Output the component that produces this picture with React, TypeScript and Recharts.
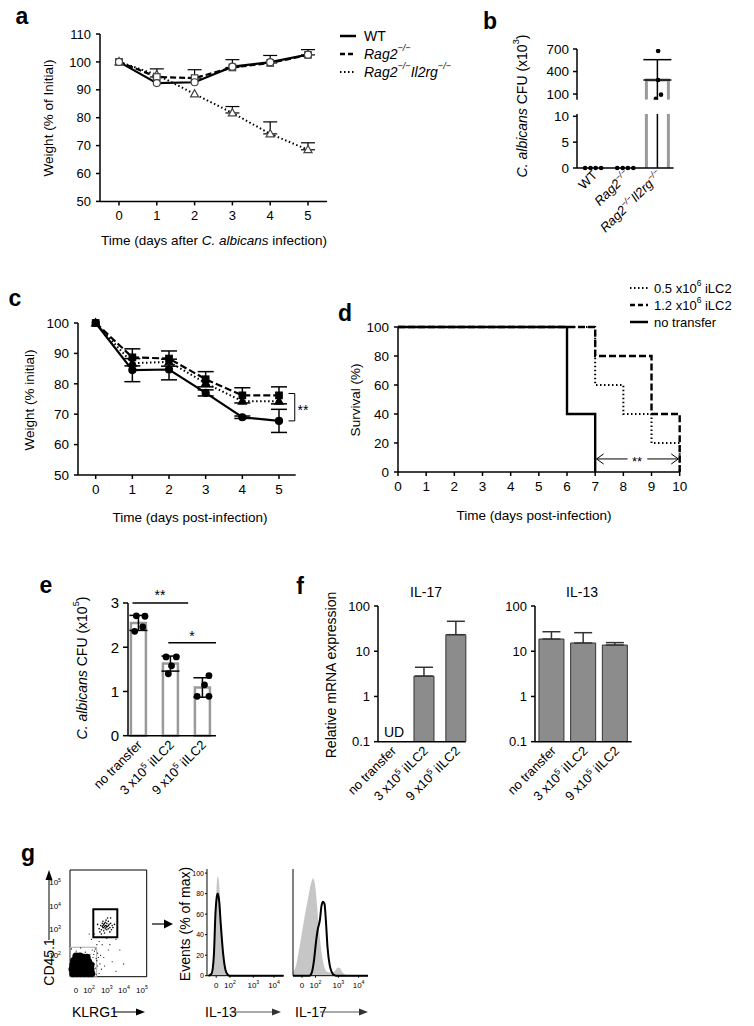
import React from 'react';
import {
  LineChart, Line, ComposedChart, Bar, Scatter, Area, XAxis, YAxis,
  ErrorBar, ReferenceLine, ReferenceArea,
} from 'recharts';

const FONT = '"Liberation Sans", Arial, Helvetica, sans-serif';

// ---------------- Panel a ----------------
const aDays = [0, 1, 2, 3, 4, 5];
const aWT = [100, 92.4, 92.7, 98.3, 99.9, 102.6];
const aRag2 = [100, 94.6, 94.2, 98.0, 99.6, 102.5];
const aRag2Err = [null, 2.9, 3.0, 2.8, 2.7, 1.9];
const aDKO = [100, 95.4, 88.5, 81.7, 74.2, 68.5];
const aDKOErr = [null, null, null, 2.3, 4.3, 2.5];
const aYTicks = [50, 60, 70, 80, 90, 100, 110];

// ---------------- Panel b ----------------
const bCatX = [0, 1, 2];
const bMean = [null, null, 287];
const bSDup = [null, null, 271];
const bWTDots = [0, 0, 0, 0];
const bRagDots = [0, 0, 0, 0];
const bDKODots = [673, 287, 92, 38];
const bJitter = [-0.25, -0.08, 0.08, 0.25];
const bDKOJitter = [0.02, 0.02, 0.11, -0.05];
const bTopTicks = [100, 400, 700];
const bBottomTicks = [0, 5, 10];

// ---------------- Panel c ----------------
const cDays = [0, 1, 2, 3, 4, 5];
const cNone = [100, 84.5, 84.7, 77.0, 69.0, 67.8];
const cNoneErr = [null, 3.8, 3.4, 1.0, 0.4, 3.8];
const cHigh = [100, 88.7, 88.3, 81.5, 76.2, 76.2];
const cHighErr = [null, 2.8, 2.5, 2.5, 2.5, 2.8];
const cLow = [100, 86.8, 87.2, 80.2, 74.3, 74.3];
const cYTicks = [50, 60, 70, 80, 90, 100];

// ---------------- Panel d ----------------
const dNoT = [0, 6, 7];
const dNoS = [100, 40, 0];
const dHiT = [0, 7, 9, 10];
const dHiS = [100, 80, 40, 0];
const dLoT = [0, 7, 8, 9, 10];
const dLoS = [100, 60, 40, 20, 0];
const dXTicks = [0, 1, 2, 3, 4, 5, 6, 7, 8, 9, 10];
const dYTicks = [0, 20, 40, 60, 80, 100];

// ---------------- Panel e ----------------
const eX = [0, 1, 2];
const eMean = [2.55, 1.63, 1.09];
const eSD = [0.17, 0.17, 0.22];
const eDotsV = [[2.71, 2.70, 2.46, 2.36], [1.78, 1.78, 1.58, 1.40], [1.36, 1.15, 0.89, 0.89]];
const eDotsJ = [[-0.05, 0.22, 0.15, -0.1], [-0.12, 0.2, 0.05, -0.05], [0.22, 0.08, -0.15, 0.22]];
const eYTicks = [0, 1, 2, 3];

// ---------------- Panel f ----------------
const fX = [0, 1, 2];
const f17Mean = [null, 2.82, 23.2];
const f17Err = [null, 1.6, 22.7];
const f13Mean = [18.6, 15.2, 13.7];
const f13Err = [8.4, 10.5, 1.8];
const fYTicks = [0.1, 1, 10, 100];

// ---------------- Panel g ----------------
const gBlob = [
  [4, 3], [9, 3], [14, 3], [19, 3], [24, 3], [28, 3],
  [3, 7], [8, 7], [13, 7], [18, 7], [23, 7], [27, 7],
  [4, 11], [9, 11], [14, 11], [19, 11], [24, 11], [27, 11],
  [5, 15], [10, 15], [15, 15], [20, 15], [24, 14],
  [8, 19], [13, 19], [18, 18], [22, 18],
];
const gSparse = [
  [31, 5], [32, 12], [30, 18], [33, 8], [8, 24], [20, 23], [26, 21], [35, 15], [38, 3], [32, 24],
  [40, 20], [45, 10], [50, 25], [55, 14], [42, 30], [60, 5], [35, 30], [28, 35], [38, 33], [32, 40],
  [52, 30], [60, 35], [25, 40], [65, 25], [2, 26], [14, 27], [36, 22], [44, 18], [70, 12], [48, 36],
  [34, 2], [36, 10], [31, 21], [29, 25], [37, 18], [41, 7], [33, 26], [39, 12], [30, 10], [34, 17],
];
const gGate = [
  [38, 45], [40, 48], [41, 44], [42, 50], [43, 46], [44, 43], [44, 49], [45, 47], [46, 45], [46, 51],
  [47, 48], [48, 44], [48, 50], [49, 47], [50, 45], [51, 49], [52, 46], [53, 50], [54, 44], [55, 48],
  [42, 47], [43, 52], [45, 41], [47, 53], [50, 52], [52, 42], [39, 42], [56, 46], [58, 49], [36, 49],
  [41, 40], [49, 55], [53, 55], [46, 48], [44, 46], [47, 46], [45, 50], [43, 48], [48, 47], [50, 48],
];
const gDotXTicks = [7.8, 24.8, 48, 70.4, 93.9];
const gDotXLabels = ['0', '2', '3', '4', '5'];
const gDotYTicks = [20.3, 44.7, 66.3, 88.8];
const gDotYLabels = ['2', '3', '4', '5'];
const gHistXTicks = [12, 30, 60.5, 87.5];
const gHistXLabels = ['0', '2', '3', '4'];
const gHistYTicks = [0, 20, 40, 60, 80, 100];
const h13X = [2, 6, 9, 11, 13, 14, 16, 18, 21, 24, 27, 30, 100];
const h13Iso = [0, 2, 15, 55, 92, 97, 88, 60, 25, 6, 1, 0, 0];
const h13Stain = [0, 2, 20, 60, 78, 80, 72, 50, 22, 6, 1, 0, 0];
const h17IsoX = [0, 4, 8, 12, 16, 20, 24, 27, 30, 33, 36, 39, 42, 45, 50, 55, 60, 63, 66, 70, 75, 100];
const h17Iso = [3, 10, 25, 42, 60, 75, 90, 95, 85, 60, 35, 18, 8, 4, 3, 4, 8, 7, 3, 1, 0, 0];
const h17StainX = [0, 22, 25, 28, 31, 33, 36, 38, 40, 42, 44, 46, 49, 52, 55, 58, 100];
const h17Stain = [0, 0, 3, 15, 35, 45, 55, 68, 72, 70, 52, 28, 10, 3, 0.5, 0, 0];

// ---------------- helpers ----------------
type Seg = { t: string; sup?: boolean; it?: boolean };

function rich(segs: Seg[], fs: number) {
  let shifted = false;
  return segs.map((s, i) => {
    let dy: number | undefined;
    if (s.sup && !shifted) { dy = -fs * 0.4; shifted = true; }
    else if (!s.sup && shifted) { dy = fs * 0.4; shifted = false; }
    return (
      <tspan key={i} dy={dy} fontSize={s.sup ? fs * 0.65 : fs} fontStyle={s.it ? 'italic' : 'normal'}>
        {s.t}
      </tspan>
    );
  });
}

function geom(pl: number, pt: number, pw: number, ph: number, yw = 50, xh = 40, mt = 10, mr = 10, mb = 0) {
  return {
    style: { position: 'absolute' as const, left: pl - yw, top: pt - mt },
    width: yw + pw + mr,
    height: mt + ph + xh + mb,
    margin: { top: mt, right: mr, bottom: mb, left: 0 },
    yw, xh,
  };
}

const AX = { stroke: '#000', strokeWidth: 1.5 };
const tk = (fs: number) => ({ fill: '#000', fontSize: fs });

function markerShape(shape: string, fill: string, stroke: string, size: number) {
  return (p: any) => {
    const { cx, cy, index } = p;
    if (cx == null || cy == null) return <g key={`m${index}`} />;
    const s = size;
    if (shape === 'circle')
      return <circle key={`m${index}`} cx={cx} cy={cy} r={s / 2} fill={fill} stroke={stroke} strokeWidth={1.2} />;
    if (shape === 'square')
      return <rect key={`m${index}`} x={cx - s / 2} y={cy - s / 2} width={s} height={s} fill={fill} stroke={stroke} strokeWidth={1.2} />;
    return (
      <polygon key={`m${index}`}
        points={`${cx},${cy - s * 0.62} ${cx - s * 0.58},${cy + s * 0.42} ${cx + s * 0.58},${cy + s * 0.42}`}
        fill={fill} stroke={stroke} strokeWidth={1.2} />
    );
  };
}

const dotShape = (r: number) => (p: any) => <circle cx={p.cx} cy={p.cy} r={r} fill="#000" />;

function rotTick(labels: Seg[][], fs: number, dx: number, dy: number) {
  return (p: any) => {
    const { x, y, payload } = p;
    const lab = labels[Math.round(payload.value)] || [];
    return (
      <g transform={`translate(${x + dx},${y + dy})`}>
        <text transform="rotate(-45)" textAnchor="end" fill="#000" fontSize={fs}>{rich(lab, fs)}</text>
      </g>
    );
  };
}

function powTick(ticks: number[], labels: string[], fs: number, side: 'x' | 'y') {
  return (p: any) => {
    const { x, y, payload } = p;
    const i = ticks.findIndex((t) => Math.abs(t - payload.value) < 1e-6);
    const l = labels[i];
    const segs: Seg[] = l === '0' ? [{ t: '0' }] : [{ t: '10' }, { t: l, sup: true }];
    if (side === 'x')
      return <text x={x} y={y + 8} textAnchor="middle" fill="#000" fontSize={fs}>{rich(segs, fs)}</text>;
    return <text x={x - 1} y={y + 3} textAnchor="end" fill="#000" fontSize={fs}>{rich(segs, fs)}</text>;
  };
}

function T({ x, y, segs, fs = 14, anchor = 'middle', rot = 0, bold = false, fill = '#000' }:
  { x: number; y: number; segs: Seg[]; fs?: number; anchor?: string; rot?: number; bold?: boolean; fill?: string }) {
  return (
    <text transform={`translate(${x},${y}) rotate(${rot})`} textAnchor={anchor as any}
      dominantBaseline="central" fontSize={fs} fontWeight={bold ? 'bold' : 'normal'} fill={fill}>
      {rich(segs, fs)}
    </text>
  );
}

const bLabels: Seg[][] = [
  [{ t: 'WT' }],
  [{ t: 'Rag2', it: true }, { t: '−/−', sup: true, it: true }],
  [{ t: 'Rag2', it: true }, { t: '−/−', sup: true, it: true }, { t: 'Il2rg', it: true }, { t: '−/−', sup: true, it: true }],
];
const efLabels: Seg[][] = [
  [{ t: 'no transfer' }],
  [{ t: '3 x10' }, { t: '5', sup: true }, { t: ' iILC2' }],
  [{ t: '9 x10' }, { t: '5', sup: true }, { t: ' iILC2' }],
];

// ---------------- data tables ----------------
const aData = aDays.map((d, i) => ({
  day: d, wt: aWT[i], rag2: aRag2[i], dko: aDKO[i],
  rag2E: aRag2Err[i] == null ? null : [0, aRag2Err[i]],
  dkoE: aDKOErr[i] == null ? null : [0, aDKOErr[i]],
}));
const bBars = bCatX.map((x, i) => ({ x, y: bMean[i], e: bSDup[i] == null ? null : [0, bSDup[i]] }));
const bTopDots = bDKODots.map((v, i) => ({ x: 2 + bDKOJitter[i], y: v }));
const bBotDots = [
  ...bWTDots.map((v, i) => ({ x: 0 + bJitter[i], y: v })),
  ...bRagDots.map((v, i) => ({ x: 1 + bJitter[i], y: v })),
];
const cData = cDays.map((d, i) => ({
  day: d, none: cNone[i], high: cHigh[i], low: cLow[i],
  noneE: cNoneErr[i], highE: cHighErr[i],
}));
const dNo = dNoT.map((t, i) => ({ t, s: dNoS[i] }));
const dHi = dHiT.map((t, i) => ({ t, s: dHiS[i] }));
const dLo = dLoT.map((t, i) => ({ t, s: dLoS[i] }));
const eBars = eX.map((x, i) => ({ x, y: eMean[i], e: eSD[i] }));
const eDots = eDotsV.flatMap((arr, b) => arr.map((v, k) => ({ x: b + eDotsJ[b][k], y: v })));
const f17 = fX.map((x, i) => ({ x, y: f17Mean[i], e: f17Err[i] == null ? null : [0, f17Err[i]] }));
const f13 = fX.map((x, i) => ({ x, y: f13Mean[i], e: [0, f13Err[i]] }));
const gBlobD = gBlob.map(([x, y]) => ({ x, y }));
const gSparseD = gSparse.map(([x, y]) => ({ x, y }));
const gGateD = gGate.map(([x, y]) => ({ x, y }));
const h13IsoD = h13X.map((x, i) => ({ x, y: h13Iso[i] }));
const h13StD = h13X.map((x, i) => ({ x, y: h13Stain[i] }));
const h17IsoD = h17IsoX.map((x, i) => ({ x, y: h17Iso[i] }));
const h17StD = h17StainX.map((x, i) => ({ x, y: h17Stain[i] }));

// bar shapes for panel b (open gray bar with the SD line running through it)
const bTopShape = (p: any) => {
  const { x, y, width, height } = p;
  if (!(height > 0)) return <g />;
  return (
    <g>
      <path d={`M${x},${y + height}V${y}H${x + width}V${y + height}`} fill="none" stroke="#9a9a9a" strokeWidth={3} />
      <line x1={x + width / 2} x2={x + width / 2} y1={y} y2={y + height} stroke="#000" strokeWidth={1.5} />
    </g>
  );
};
const bBotShape = (p: any) => {
  const { x, y, width, height } = p;
  if (!(height > 0)) return <g />;
  return (
    <g>
      <path d={`M${x},${y + height}V${y}M${x + width},${y}V${y + height}`} fill="none" stroke="#9a9a9a" strokeWidth={3} />
      <line x1={x + width / 2} x2={x + width / 2} y1={y} y2={y + height} stroke="#000" strokeWidth={1.5} />
    </g>
  );
};

export default function App() {
  const ga = geom(100, 34.3, 227, 167.4, 60, 30);
  const gbT = geom(577, 49.3, 96.6, 50.7, 45, 0, 12, 10, 10);
  const gbB = geom(577, 114.3, 96.6, 54, 45, 90, 8, 10);
  const gc = geom(78.3, 322.7, 217.7, 152, 50, 30);
  const gd = geom(398.3, 327.3, 281.7, 145, 40, 30);
  const ge = geom(128, 603.3, 88, 132.7, 40, 80);
  const gf17 = geom(378.3, 606, 87.7, 135.7, 40, 80);
  const gf13 = geom(535, 606, 96.7, 135.7, 40, 80);
  const gDot = geom(70, 870, 76.7, 106.7, 25, 25, 5, 5);
  const gH13 = geom(206.7, 869.3, 76.6, 106.7, 20, 25, 5, 5);
  const gH17 = geom(293.3, 869.3, 75, 106.7, 8, 25, 5, 5);

  const legA = [
    { dash: undefined, w: 2.5, segs: [{ t: 'WT' }] as Seg[] },
    { dash: '5 3', w: 2.5, segs: bLabels[1] },
    { dash: '1.5 2.5', w: 2, segs: bLabels[2] },
  ];
  const legD = [
    { dash: '1.5 2.5', w: 2, segs: [{ t: '0.5 x10' }, { t: '6', sup: true }, { t: ' iLC2' }] as Seg[] },
    { dash: '5 3', w: 2.5, segs: [{ t: '1.2 x10' }, { t: '6', sup: true }, { t: ' iLC2' }] as Seg[] },
    { dash: undefined, w: 2.5, segs: [{ t: 'no transfer' }] as Seg[] },
  ];

  return (
    <div style={{ position: 'absolute', left: 0, top: 0, width: 754, height: 1026, background: '#fff', fontFamily: FONT, overflow: 'hidden' }}>
      {/* ---------- a ---------- */}
      <div style={ga.style}>
        <LineChart width={ga.width} height={ga.height} margin={ga.margin} data={aData}>
          <XAxis dataKey="day" type="number" domain={[0, 5]} ticks={aDays} padding={{ left: 19, right: 19 }}
            height={ga.xh} tickSize={4} tickMargin={5} tick={tk(13)} axisLine={AX} tickLine={AX} interval={0} />
          <YAxis type="number" domain={[50, 110]} ticks={aYTicks} width={ga.yw} tickSize={4} tickMargin={5}
            tick={tk(13)} axisLine={AX} tickLine={AX} interval={0} />
          <Line dataKey="dko" stroke="#000" strokeWidth={2} strokeDasharray="1.5 2.5" isAnimationActive={false}
            dot={markerShape('triangle', '#fff', '#444', 7)}>
            <ErrorBar dataKey="dkoE" width={7} stroke="#000" strokeWidth={1.2} />
          </Line>
          <Line dataKey="rag2" stroke="#000" strokeWidth={2.2} strokeDasharray="6 3" isAnimationActive={false}
            dot={markerShape('square', '#fff', '#444', 6.5)}>
            <ErrorBar dataKey="rag2E" width={7} stroke="#000" strokeWidth={1.2} />
          </Line>
          <Line dataKey="wt" stroke="#000" strokeWidth={2.2} isAnimationActive={false}
            dot={markerShape('circle', '#fff', '#444', 7)} />
        </LineChart>
      </div>

      {/* ---------- b (broken axis: upper and lower segments) ---------- */}
      <div style={gbT.style}>
        <ComposedChart width={gbT.width} height={gbT.height} margin={gbT.margin} data={bBars}>
          <XAxis dataKey="x" type="number" domain={[-0.5, 2.5]} hide />
          <XAxis xAxisId="s" dataKey="x" type="number" domain={[-0.5, 2.5]} hide />
          <YAxis dataKey="y" type="number" domain={[25, 700]} allowDataOverflow ticks={bTopTicks} width={gbT.yw}
            tickSize={4} tickMargin={4} tick={tk(13.5)} axisLine={AX} tickLine={AX} interval={0} />
          <Bar dataKey="y" barSize={22} shape={bTopShape} isAnimationActive={false}>
            <ErrorBar dataKey="e" width={14} stroke="#000" strokeWidth={1.5} />
          </Bar>
          <Scatter xAxisId="s" data={bTopDots} dataKey="y" shape={dotShape(2.3)} isAnimationActive={false} />
        </ComposedChart>
      </div>
      <div style={gbB.style}>
        <ComposedChart width={gbB.width} height={gbB.height} margin={gbB.margin} data={bBars}>
          <XAxis dataKey="x" type="number" domain={[-0.5, 2.5]} ticks={bCatX} height={gbB.xh} tickSize={0}
            tickLine={false} axisLine={AX} tick={rotTick(bLabels, 13, 5, 6)} interval={0} />
          <XAxis xAxisId="s" dataKey="x" type="number" domain={[-0.5, 2.5]} hide />
          <YAxis yAxisId="bar" type="number" domain={[0, 10.45]} allowDataOverflow hide />
          <YAxis dataKey="y" type="number" domain={[0, 10.45]} ticks={bBottomTicks} width={gbB.yw}
            tickSize={4} tickMargin={4} tick={tk(13.5)} axisLine={AX} tickLine={AX} interval={0} />
          <Bar dataKey="y" yAxisId="bar" barSize={22} shape={bBotShape} isAnimationActive={false} />
          <Scatter xAxisId="s" data={bBotDots} dataKey="y" shape={dotShape(2.3)} isAnimationActive={false} />
        </ComposedChart>
      </div>

      {/* ---------- c ---------- */}
      <div style={gc.style}>
        <LineChart width={gc.width} height={gc.height} margin={gc.margin} data={cData}>
          <XAxis dataKey="day" type="number" domain={[0, 5]} ticks={cDays} padding={{ left: 17.7, right: 16.7 }}
            height={gc.xh} tickSize={4} tickMargin={5} tick={tk(13.5)} axisLine={AX} tickLine={AX} interval={0} />
          <YAxis type="number" domain={[50, 100]} ticks={cYTicks} width={gc.yw} tickSize={4} tickMargin={5}
            tick={tk(13.5)} axisLine={AX} tickLine={AX} interval={0} />
          <Line dataKey="low" stroke="#000" strokeWidth={2} strokeDasharray="1.5 2.5" isAnimationActive={false}
            dot={markerShape('triangle', '#000', '#000', 7)} />
          <Line dataKey="high" stroke="#000" strokeWidth={2.2} strokeDasharray="7 3" isAnimationActive={false}
            dot={markerShape('square', '#000', '#000', 6.5)}>
            <ErrorBar dataKey="highE" width={8} stroke="#000" strokeWidth={1.5} />
          </Line>
          <Line dataKey="none" stroke="#000" strokeWidth={2.2} isAnimationActive={false}
            dot={markerShape('circle', '#000', '#000', 7)}>
            <ErrorBar dataKey="noneE" width={8} stroke="#000" strokeWidth={1.5} />
          </Line>
          <ReferenceLine segment={[{ x: 5.26, y: 76.8 }, { x: 5.43, y: 76.8 }]} stroke="#000" strokeWidth={1} ifOverflow="visible" />
          <ReferenceLine segment={[{ x: 5.43, y: 76.8 }, { x: 5.43, y: 67.8 }]} stroke="#000" strokeWidth={1} ifOverflow="visible" />
          <ReferenceLine segment={[{ x: 5.26, y: 67.8 }, { x: 5.43, y: 67.8 }]} stroke="#000" strokeWidth={1} ifOverflow="visible" />
        </LineChart>
      </div>

      {/* ---------- d ---------- */}
      <div style={gd.style}>
        <LineChart width={gd.width} height={gd.height} margin={gd.margin}>
          <XAxis dataKey="t" type="number" domain={[0, 10]} ticks={dXTicks} height={gd.xh} tickSize={4}
            tickMargin={5} tick={tk(13.5)} axisLine={AX} tickLine={AX} interval={0} />
          <YAxis type="number" domain={[0, 100]} ticks={dYTicks} width={gd.yw} tickSize={4} tickMargin={5}
            tick={tk(13.5)} axisLine={AX} tickLine={AX} interval={0} />
          <Line data={dLo} dataKey="s" type="stepAfter" stroke="#000" strokeWidth={2} strokeDasharray="1.5 2.5" dot={false} isAnimationActive={false} />
          <Line data={dHi} dataKey="s" type="stepAfter" stroke="#000" strokeWidth={2.4} strokeDasharray="7 3" dot={false} isAnimationActive={false} />
          <Line data={dNo} dataKey="s" type="stepAfter" stroke="#000" strokeWidth={2.4} dot={false} isAnimationActive={false} />
          <ReferenceLine segment={[{ x: 7.05, y: 9 }, { x: 8.15, y: 9 }]} stroke="#000" strokeWidth={1} ifOverflow="visible" />
          <ReferenceLine segment={[{ x: 8.85, y: 9 }, { x: 9.95, y: 9 }]} stroke="#000" strokeWidth={1} ifOverflow="visible" />
          <ReferenceLine segment={[{ x: 7.05, y: 9 }, { x: 7.3, y: 12.5 }]} stroke="#000" strokeWidth={1} ifOverflow="visible" />
          <ReferenceLine segment={[{ x: 7.05, y: 9 }, { x: 7.3, y: 5.5 }]} stroke="#000" strokeWidth={1} ifOverflow="visible" />
          <ReferenceLine segment={[{ x: 9.95, y: 9 }, { x: 9.7, y: 12.5 }]} stroke="#000" strokeWidth={1} ifOverflow="visible" />
          <ReferenceLine segment={[{ x: 9.95, y: 9 }, { x: 9.7, y: 5.5 }]} stroke="#000" strokeWidth={1} ifOverflow="visible" />
        </LineChart>
      </div>

      {/* ---------- e ---------- */}
      <div style={ge.style}>
        <ComposedChart width={ge.width} height={ge.height} margin={ge.margin} data={eBars}>
          <XAxis dataKey="x" type="number" domain={[-0.31, 2.44]} ticks={eX} height={ge.xh} tickSize={0}
            tickLine={false} axisLine={AX} tick={rotTick(efLabels, 13, 5, 8)} interval={0} />
          <XAxis xAxisId="s" dataKey="x" type="number" domain={[-0.31, 2.44]} hide />
          <YAxis dataKey="y" type="number" domain={[0, 3]} ticks={eYTicks} width={ge.yw} tickSize={5}
            tickMargin={4} tick={tk(15)} axisLine={AX} tickLine={AX} interval={0} />
          <Bar dataKey="y" barSize={15} fill="#fff" stroke="#9a9a9a" strokeWidth={2.5} isAnimationActive={false}>
            <ErrorBar dataKey="e" width={9} stroke="#000" strokeWidth={1.5} />
          </Bar>
          <Scatter xAxisId="s" data={eDots} dataKey="y" shape={dotShape(3.4)} isAnimationActive={false} />
          <ReferenceLine segment={[{ x: -0.17, y: 3 }, { x: 1.57, y: 3 }]} stroke="#000" strokeWidth={1.5} ifOverflow="visible" />
          <ReferenceLine segment={[{ x: 0.95, y: 2.1 }, { x: 2.44, y: 2.1 }]} stroke="#000" strokeWidth={1.5} ifOverflow="visible" />
        </ComposedChart>
      </div>

      {/* ---------- f ---------- */}
      <div style={gf17.style}>
        <ComposedChart width={gf17.width} height={gf17.height} margin={gf17.margin} data={f17}>
          <XAxis dataKey="x" type="number" domain={[-0.44, 2.31]} ticks={fX} height={gf17.xh} tickSize={0}
            tickLine={false} axisLine={AX} tick={rotTick(efLabels, 13, 5, 8)} interval={0} />
          <YAxis dataKey="y" type="number" scale="log" domain={[0.1, 100]} allowDataOverflow ticks={fYTicks}
            width={gf17.yw} tickSize={4} tickMargin={4} tick={tk(13)} axisLine={AX} tickLine={AX}
            tickFormatter={(v: number) => String(v)} interval={0} />
          <Bar dataKey="y" barSize={20} fill="#8c8c8c" stroke="#333" strokeWidth={1} isAnimationActive={false}>
            <ErrorBar dataKey="e" width={9} stroke="#333" strokeWidth={1.5} />
          </Bar>
        </ComposedChart>
      </div>
      <div style={gf13.style}>
        <ComposedChart width={gf13.width} height={gf13.height} margin={gf13.margin} data={f13}>
          <XAxis dataKey="x" type="number" domain={[-0.53, 2.52]} ticks={fX} height={gf13.xh} tickSize={0}
            tickLine={false} axisLine={AX} tick={rotTick(efLabels, 13, 5, 8)} interval={0} />
          <YAxis dataKey="y" type="number" scale="log" domain={[0.1, 100]} allowDataOverflow ticks={fYTicks}
            width={gf13.yw} tickSize={4} tickMargin={4} tick={tk(13)} axisLine={AX} tickLine={AX}
            tickFormatter={(v: number) => String(v)} interval={0} />
          <Bar dataKey="y" barSize={25} fill="#8c8c8c" stroke="#333" strokeWidth={1} isAnimationActive={false}>
            <ErrorBar dataKey="e" width={9} stroke="#333" strokeWidth={1.5} />
          </Bar>
        </ComposedChart>
      </div>

      {/* ---------- g: dot plot ---------- */}
      <div style={gDot.style}>
        <ComposedChart width={gDot.width} height={gDot.height} margin={gDot.margin}>
          <XAxis dataKey="x" type="number" domain={[0, 100]} ticks={gDotXTicks} height={gDot.xh}
            axisLine={false} tickLine={false} tick={powTick(gDotXTicks, gDotXLabels, 8, 'x')} interval={0} />
          <YAxis dataKey="y" type="number" domain={[0, 100]} ticks={gDotYTicks} width={gDot.yw}
            axisLine={false} tickLine={false} tick={powTick(gDotYTicks, gDotYLabels, 8, 'y')} interval={0} />
          <ReferenceArea x1={0} x2={100} y1={0} y2={100} fill="none" stroke="#000" strokeWidth={1} />
          <Scatter data={gSparseD} dataKey="y" shape={dotShape(0.6)} isAnimationActive={false} />
          <Scatter data={gBlobD} dataKey="y" shape={dotShape(3.8)} isAnimationActive={false} />
          <Scatter data={gGateD} dataKey="y" shape={dotShape(0.8)} isAnimationActive={false} />
          <ReferenceArea x1={0} x2={34.8} y1={0} y2={27.6} fill="none" stroke="#aaa" strokeWidth={1} />
          <ReferenceArea x1={30.4} x2={61.7} y1={36.9} y2={63.2} fill="none" stroke="#000" strokeWidth={2} />
        </ComposedChart>
      </div>

      {/* ---------- g: IL-13 histogram ---------- */}
      <div style={gH13.style}>
        <ComposedChart width={gH13.width} height={gH13.height} margin={gH13.margin}>
          <XAxis dataKey="x" type="number" domain={[0, 100]} ticks={gHistXTicks} height={gH13.xh}
            axisLine={{ stroke: '#000', strokeWidth: 1 }} tickLine={{ stroke: '#000' }} tickSize={2}
            tick={powTick(gHistXTicks, gHistXLabels, 8, 'x')} interval={0} />
          <YAxis dataKey="y" type="number" domain={[0, 104]} ticks={gHistYTicks} width={gH13.yw}
            axisLine={{ stroke: '#000', strokeWidth: 1 }} tickLine={{ stroke: '#000' }} tickSize={2} tickMargin={1}
            tick={{ fill: '#000', fontSize: 7 }} interval={0} />
          <Area data={h13IsoD} dataKey="y" type="monotone" fill="#c6c6c6" fillOpacity={1} stroke="none" isAnimationActive={false} />
          <Line data={h13StD} dataKey="y" type="monotone" stroke="#000" strokeWidth={2} dot={false} isAnimationActive={false} />
        </ComposedChart>
      </div>

      {/* ---------- g: IL-17 histogram ---------- */}
      <div style={gH17.style}>
        <ComposedChart width={gH17.width} height={gH17.height} margin={gH17.margin}>
          <XAxis dataKey="x" type="number" domain={[0, 100]} ticks={gHistXTicks} height={gH17.xh}
            axisLine={{ stroke: '#000', strokeWidth: 1 }} tickLine={{ stroke: '#000' }} tickSize={2}
            tick={powTick(gHistXTicks, gHistXLabels, 8, 'x')} interval={0} />
          <YAxis dataKey="y" type="number" domain={[0, 104]} ticks={gHistYTicks} width={gH17.yw}
            axisLine={{ stroke: '#000', strokeWidth: 1 }} tickLine={{ stroke: '#000' }} tickSize={2}
            tick={false} interval={0} />
          <Area data={h17IsoD} dataKey="y" type="monotone" fill="#c6c6c6" fillOpacity={1} stroke="none" isAnimationActive={false} />
          <Line data={h17StD} dataKey="y" type="monotone" stroke="#000" strokeWidth={2} dot={false} isAnimationActive={false} />
        </ComposedChart>
      </div>

      {/* ---------- text overlay ---------- */}
      <svg width={754} height={1026} style={{ position: 'absolute', left: 0, top: 0, pointerEvents: 'none' }} fontFamily={FONT}>
        {/* panel letters */}
        <T x={22} y={16} segs={[{ t: 'a' }]} fs={23} bold />
        <T x={490} y={21} segs={[{ t: 'b' }]} fs={23} bold />
        <T x={15} y={298} segs={[{ t: 'c' }]} fs={23} bold />
        <T x={345} y={313} segs={[{ t: 'd' }]} fs={23} bold />
        <T x={46} y={585} segs={[{ t: 'e' }]} fs={23} bold />
        <T x={300} y={586} segs={[{ t: 'f' }]} fs={23} bold />
        <T x={28} y={853} segs={[{ t: 'g' }]} fs={23} bold />

        {/* a */}
        <T x={48} y={118} rot={-90} fs={13.5} segs={[{ t: 'Weight (% of Initial)' }]} />
        <T x={214} y={240} fs={13.5} segs={[{ t: 'Time (days after ' }, { t: 'C. albicans', it: true }, { t: ' infection)' }]} />
        {legA.map((l, i) => (
          <g key={i}>
            <line x1={340} x2={356} y1={36 + i * 18} y2={36 + i * 18} stroke="#000" strokeWidth={l.w} strokeDasharray={l.dash} />
            <T x={364} y={36 + i * 18} fs={14} anchor="start" segs={l.segs} />
          </g>
        ))}

        {/* b */}
        <T x={522} y={106} rot={-90} fs={14} segs={[{ t: 'C. albicans', it: true }, { t: ' CFU (x10' }, { t: '3', sup: true }, { t: ')' }]} />

        {/* c */}
        <T x={29} y={400} rot={-90} fs={13.5} segs={[{ t: 'Weight (% initial)' }]} />
        <T x={190} y={517} fs={13.5} segs={[{ t: 'Time (days post-infection)' }]} />
        <T x={303} y={410} fs={14} segs={[{ t: '**' }]} />

        {/* d */}
        <T x={355} y={400} rot={-90} fs={13.5} segs={[{ t: 'Survival (%)' }]} />
        <T x={534} y={515} fs={13.5} segs={[{ t: 'Time (days post-infection)' }]} />
        <T x={637} y={461} fs={13} segs={[{ t: '**' }]} />
        {legD.map((l, i) => (
          <g key={i}>
            <line x1={630} x2={648} y1={288 + i * 17} y2={288 + i * 17} stroke="#000" strokeWidth={l.w} strokeDasharray={l.dash} />
            <T x={654} y={288 + i * 17} fs={13} anchor="start" segs={l.segs} />
          </g>
        ))}

        {/* e */}
        <T x={82} y={668} rot={-90} fs={14} segs={[{ t: 'C. albicans', it: true }, { t: ' CFU (x10' }, { t: '5', sup: true }, { t: ')' }]} />
        <T x={160} y={595} fs={14} segs={[{ t: '**' }]} />
        <T x={192} y={636} fs={14} segs={[{ t: '*' }]} />

        {/* f */}
        <T x={331} y={675} rot={-90} fs={14} segs={[{ t: 'Relative mRNA expression' }]} />
        <T x={426} y={592} fs={14} segs={[{ t: 'IL-17' }]} />
        <T x={582} y={592} fs={14} segs={[{ t: 'IL-13' }]} />
        <T x={394} y={732} fs={14} segs={[{ t: 'UD' }]} />

        {/* g */}
        <T x={49} y={962} rot={-90} fs={14} segs={[{ t: 'CD45.1' }]} />
        <line x1={49} x2={49} y1={940} y2={878} stroke="#000" strokeWidth={1} />
        <polygon points="49,870 45.5,880 52.5,880" fill="#000" />
        <T x={72} y={1012} fs={14} anchor="start" segs={[{ t: 'KLRG1' }]} />
        <line x1={113} x2={138} y1={1012} y2={1012} stroke="#000" strokeWidth={1} />
        <polygon points="145,1012 136,1008.5 136,1015.5" fill="#000" />
        <line x1={152} x2={165} y1={924} y2={924} stroke="#000" strokeWidth={1.2} />
        <polygon points="173,924 164,919.5 164,928.5" fill="#000" />
        <T x={185} y={924} rot={-90} fs={14} segs={[{ t: 'Events (% of max)' }]} />
        <T x={205} y={1012} fs={14} anchor="start" segs={[{ t: 'IL-13' }]} />
        <line x1={231} x2={274} y1={1012} y2={1012} stroke="#555" strokeWidth={1.2} />
        <polygon points="281,1012 272,1008.5 272,1015.5" fill="#333" />
        <T x={295} y={1012} fs={14} anchor="start" segs={[{ t: 'IL-17' }]} />
        <line x1={320} x2={361} y1={1012} y2={1012} stroke="#555" strokeWidth={1.2} />
        <polygon points="368,1012 359,1008.5 359,1015.5" fill="#333" />
      </svg>
    </div>
  );
}
